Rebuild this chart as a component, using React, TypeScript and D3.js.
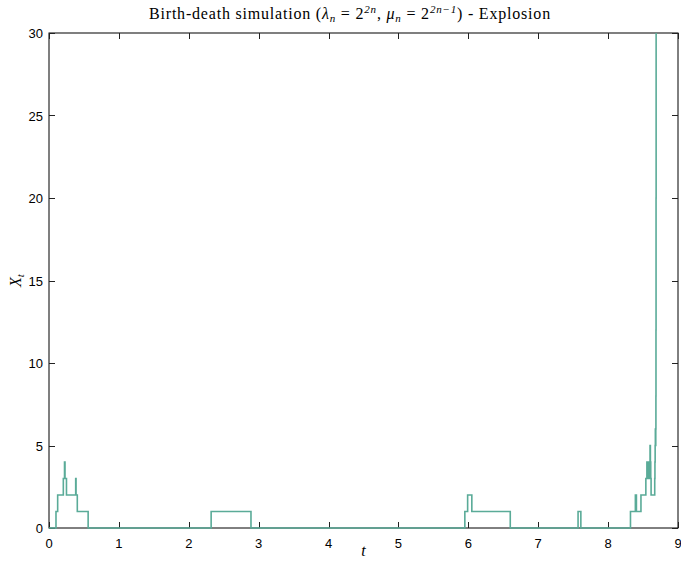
import * as d3 from 'd3';
import { useEffect, useRef } from 'react';

// jump times of the simulated path and the state entered at each time
const jumpTimes = [
  0, 0.10, 0.124, 0.205, 0.222, 0.229, 0.25, 0.382, 0.387, 0.405, 0.56,
  2.32, 2.89,
  5.95, 5.99, 6.05, 6.60,
  7.57, 7.61,
  8.32, 8.39, 8.405, 8.47, 8.54, 8.555, 8.565, 8.575, 8.585, 8.595, 8.60, 8.605, 8.61, 8.615,
  8.667, 8.670, 8.673, 8.676, 8.679, 8.682, 8.684, 8.685, 8.686, 8.687
];
const states = [
  0, 1, 2, 3, 4, 3, 2, 3, 2, 1, 0,
  1, 0,
  1, 2, 1, 0,
  1, 0,
  1, 2, 1, 2, 3, 4, 3, 4, 3, 4, 5, 4, 3, 2,
  3, 4, 5, 6, 5, 6, 8, 12, 20, 35
];
const xTicks = [0, 1, 2, 3, 4, 5, 6, 7, 8, 9];
const yTicks = [0, 5, 10, 15, 20, 25, 30];

export default function App() {
  const ref = useRef<SVGSVGElement>(null);

  useEffect(() => {
    const W = 681, H = 563;
    const margin = { top: 33, right: 3, bottom: 35, left: 49 };
    const width = W - margin.left - margin.right;
    const height = H - margin.top - margin.bottom;

    const svg = d3.select(ref.current);
    svg.selectAll('*').remove();

    const g = svg.append('g').attr('transform', `translate(${margin.left},${margin.top})`);

    const x = d3.scaleLinear().domain([0, 9]).range([0, width]);
    const y = d3.scaleLinear().domain([0, 30]).range([height, 0]);

    const tickFont = '"Liberation Sans", Arial, Helvetica, sans-serif';

    // frame
    g.append('rect')
      .attr('width', width).attr('height', height)
      .attr('fill', 'white').attr('stroke', 'black').attr('stroke-width', 1);

    // ticks inside, all four sides
    const tl = 6;
    xTicks.forEach(t => {
      const xp = Math.round(x(t)) + 0.5;
      g.append('line').attr('x1', xp).attr('x2', xp).attr('y1', height).attr('y2', height - tl).attr('stroke', '#222');
      g.append('line').attr('x1', xp).attr('x2', xp).attr('y1', 0).attr('y2', tl).attr('stroke', '#222');
      g.append('text').attr('x', x(t)).attr('y', height + 20)
        .attr('text-anchor', 'middle').attr('font-family', tickFont).attr('font-size', 13).text(t);
    });
    yTicks.forEach(t => {
      const yp = Math.round(y(t)) + 0.5;
      g.append('line').attr('x1', 0).attr('x2', tl).attr('y1', yp).attr('y2', yp).attr('stroke', '#222');
      g.append('line').attr('x1', width).attr('x2', width - tl).attr('y1', yp).attr('y2', yp).attr('stroke', '#222');
      g.append('text').attr('x', -6).attr('y', y(t) + 5)
        .attr('text-anchor', 'end').attr('font-family', tickFont).attr('font-size', 13).text(t);
    });

    // step path
    svg.append('defs').append('clipPath').attr('id', 'plotclip')
      .append('rect').attr('x', 0).attr('y', 0).attr('width', width).attr('height', height + 2);

    const pts = jumpTimes.map((t, i) => [t, states[i]] as [number, number]);
    const line = d3.line<[number, number]>()
      .x(d => x(d[0]))
      .y(d => y(d[1]))
      .curve(d3.curveStepAfter);

    g.append('path')
      .datum(pts)
      .attr('d', line)
      .attr('clip-path', 'url(#plotclip)')
      .attr('fill', 'none')
      .attr('stroke', '#5aab98')
      .attr('stroke-width', 1.6);

    // title
    const serif = '"Liberation Serif", "DejaVu Serif", serif';
    const title = svg.append('text')
      .attr('x', 350).attr('y', 19)
      .attr('text-anchor', 'middle').attr('font-family', serif).attr('font-size', 16)
      .attr('letter-spacing', 0.8);
    title.append('tspan').text('Birth-death simulation (');
    title.append('tspan').attr('font-style', 'italic').text('λ');
    title.append('tspan').attr('font-style', 'italic').attr('font-size', 11).attr('dy', 3).text('n');
    title.append('tspan').attr('dy', -3).text(' = 2');
    title.append('tspan').attr('font-style', 'italic').attr('font-size', 11).attr('dy', -6).text('2n');
    title.append('tspan').attr('dy', 6).text(', ');
    title.append('tspan').attr('font-style', 'italic').text('μ');
    title.append('tspan').attr('font-style', 'italic').attr('font-size', 11).attr('dy', 3).text('n');
    title.append('tspan').attr('dy', -3).text(' = 2');
    title.append('tspan').attr('font-style', 'italic').attr('font-size', 11).attr('dy', -6).text('2n−1');
    title.append('tspan').attr('dy', 6).text(') - Explosion');

    // axis labels
    svg.append('text')
      .attr('x', margin.left + width / 2).attr('y', H - 7)
      .attr('text-anchor', 'middle').attr('font-family', serif).attr('font-style', 'italic')
      .attr('font-size', 16).text('t');

    const yl = svg.append('text')
      .attr('transform', `translate(21,${margin.top + height / 2}) rotate(-90)`)
      .attr('text-anchor', 'middle').attr('font-family', serif).attr('font-size', 16);
    yl.append('tspan').attr('font-style', 'italic').text('X');
    yl.append('tspan').attr('font-style', 'italic').attr('font-size', 11).attr('dy', 3).text('t');
  }, []);

  return (
    <div style={{ position: 'absolute', left: 0, top: 0 }}>
      <svg ref={ref} width={681} height={563} style={{ display: 'block', background: 'white' }} />
    </div>
  );
}
